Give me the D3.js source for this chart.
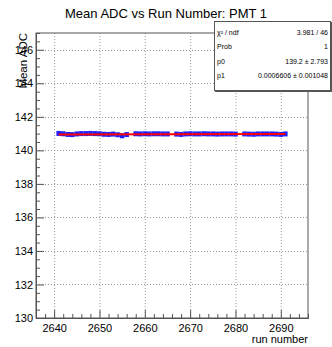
<!DOCTYPE html>
<html>
<head>
<meta charset="utf-8">
<script src="https://cdn.jsdelivr.net/npm/d3@7"></script>
<style>
  body { margin: 0; background: #fff; }
  text { font-family: "Liberation Sans", Arial, sans-serif; fill: #000; }
</style>
</head>
<body>
<svg id="chart" width="332" height="347"></svg>
<script>
// run numbers and mean ADC per run (runs 2657, 2666, 2681 missing)
const runs = [2641, 2642, 2643, 2644, 2645, 2646, 2647, 2648, 2649, 2650,
  2651, 2652, 2653, 2654, 2655, 2656, 2658, 2659, 2660, 2661, 2662, 2663,
  2664, 2665, 2667, 2668, 2669, 2670, 2671, 2672, 2673, 2674, 2675, 2676,
  2677, 2678, 2679, 2680, 2682, 2683, 2684, 2685, 2686, 2687, 2688, 2689,
  2690, 2691];
const meanAdc = [141.01, 140.99, 140.95, 140.94, 140.98, 141.0, 141.0, 141.01, 141.0, 140.99,
  140.96, 140.95, 140.97, 140.93, 140.87, 140.94, 140.99, 140.98, 140.99, 140.98, 140.99, 140.99,
  140.98, 140.98, 140.97, 140.95, 140.98, 140.99, 140.98, 140.98, 140.99, 140.98, 140.98, 140.97,
  140.98, 140.98, 140.98, 140.97, 140.98, 140.97, 140.96, 140.98, 140.98, 140.98, 140.98, 140.97,
  140.95, 140.98];
// pol1 fit parameters
const fitP0 = 139.2;
const fitP1 = 0.0006606;
const statLabels = ["\u03c7\u00b2 / ndf", "Prob", "p0", "p1"];
const statValues = ["3.981 / 46", "1", "139.2  \u00b1 2.793", "0.0006606  \u00b1 0.001048"];
const xTicks = [2640, 2650, 2660, 2670, 2680, 2690];
const yTicks = [130, 132, 134, 136, 138, 140, 142, 144, 146];

const svg = d3.select("#chart");
const mLeft = 36, mRight = 308, mTop = 33, mBottom = 318;
const x = d3.scaleLinear().domain([2636, 2696]).range([mLeft, mRight]);
const y = d3.scaleLinear().domain([130, 147]).range([mBottom, mTop]);

// grid
const grid = svg.append("g").attr("stroke", "#999").attr("stroke-dasharray", "1,2").attr("stroke-width", 1);
grid.selectAll(".gx").data(xTicks).enter().append("line")
  .attr("x1", d => x(d) + 0.5).attr("x2", d => x(d) + 0.5).attr("y1", mTop).attr("y2", mBottom);
grid.selectAll(".gy").data(yTicks.filter(d => d > 130)).enter().append("line")
  .attr("y1", d => Math.round(y(d)) + 0.5).attr("y2", d => Math.round(y(d)) + 0.5).attr("x1", mLeft).attr("x2", mRight);

// axes
const xAxis = svg.append("g").attr("transform", `translate(0,${mBottom})`)
  .call(d3.axisTop(x).tickValues(d3.range(2636, 2697, 2)).tickSize(4).tickFormat(""));
xAxis.selectAll(".tick line").filter(d => d % 10 === 0).attr("y2", -8);
svg.append("g").attr("transform", `translate(0,${mBottom})`)
  .call(d3.axisBottom(x).tickValues(xTicks).tickSize(0).tickPadding(6).tickFormat(d3.format("d")))
  .call(g => g.select(".domain").remove())
  .selectAll("text").attr("font-size", 11).attr("dy", "0.71em");

const yAxis = svg.append("g").attr("transform", `translate(${mLeft},0)`)
  .call(d3.axisRight(y).tickValues(d3.range(130, 147.01, 0.5)).tickSize(4).tickFormat(""));
yAxis.selectAll(".tick line").filter(d => d % 2 === 0).attr("x2", 8);
svg.append("g").attr("transform", `translate(${mLeft},0)`)
  .call(d3.axisLeft(y).tickValues(yTicks).tickSize(0).tickPadding(3))
  .call(g => g.select(".domain").remove())
  .selectAll("text").attr("font-size", 11);
svg.selectAll(".domain").attr("stroke", "#555");
svg.selectAll(".tick line").attr("stroke", "#555");

// frame
svg.append("rect").attr("x", mLeft).attr("y", mTop).attr("width", mRight - mLeft).attr("height", mBottom - mTop)
  .attr("fill", "none").attr("stroke", "#555").attr("stroke-width", 1);

// data points
const pts = runs.map((r, i) => ({ r, v: meanAdc[i] }));
svg.append("g").selectAll("rect").data(pts).enter().append("rect")
  .attr("x", d => x(d.r - 0.5)).attr("width", d => x(d.r + 0.5) - x(d.r - 0.5))
  .attr("y", d => y(d.v) - 2.5).attr("height", 5)
  .attr("fill", "#1f1fff");

// fit line
const fitX = [runs[0], runs[runs.length - 1]];
svg.append("path")
  .datum(fitX)
  .attr("d", d3.line().x(d => x(d)).y(d => y(fitP0 + fitP1 * d)))
  .attr("stroke", "#ff0000").attr("stroke-width", 2).attr("fill", "none");

// title and axis labels
svg.append("text").attr("x", 166).attr("y", 18).attr("text-anchor", "middle").attr("font-size", 13)
  .text("Mean ADC vs Run Number: PMT 1");
svg.append("text").attr("transform", `translate(27,${mTop}) rotate(-90)`).attr("text-anchor", "end")
  .attr("font-size", 11.5).text("Mean ADC");
svg.append("text").attr("x", mRight).attr("y", 343).attr("text-anchor", "end").attr("font-size", 11)
  .text("run number");

// stats box
const box = svg.append("g");
box.append("rect").attr("x", 214.5).attr("y", 21.5).attr("width", 116).attr("height", 69)
  .attr("fill", "#fff").attr("stroke", "#555");
box.append("line").attr("x1", 215).attr("x2", 331).attr("y1", 91.5).attr("y2", 91.5).attr("stroke", "#555");
box.append("line").attr("x1", 331.5).attr("x2", 331.5).attr("y1", 22).attr("y2", 92).attr("stroke", "#555");
const rowY = d3.scalePoint().domain(statLabels).range([35, 78]);
box.selectAll(".sl").data(statLabels).enter().append("text")
  .attr("x", 217).attr("y", d => rowY(d)).attr("font-size", 7).text(d => d);
box.selectAll(".sv").data(statValues).enter().append("text")
  .attr("x", 328).attr("y", (d, i) => rowY(statLabels[i])).attr("text-anchor", "end").attr("font-size", 7)
  .text(d => d);
</script>
</body>
</html>
